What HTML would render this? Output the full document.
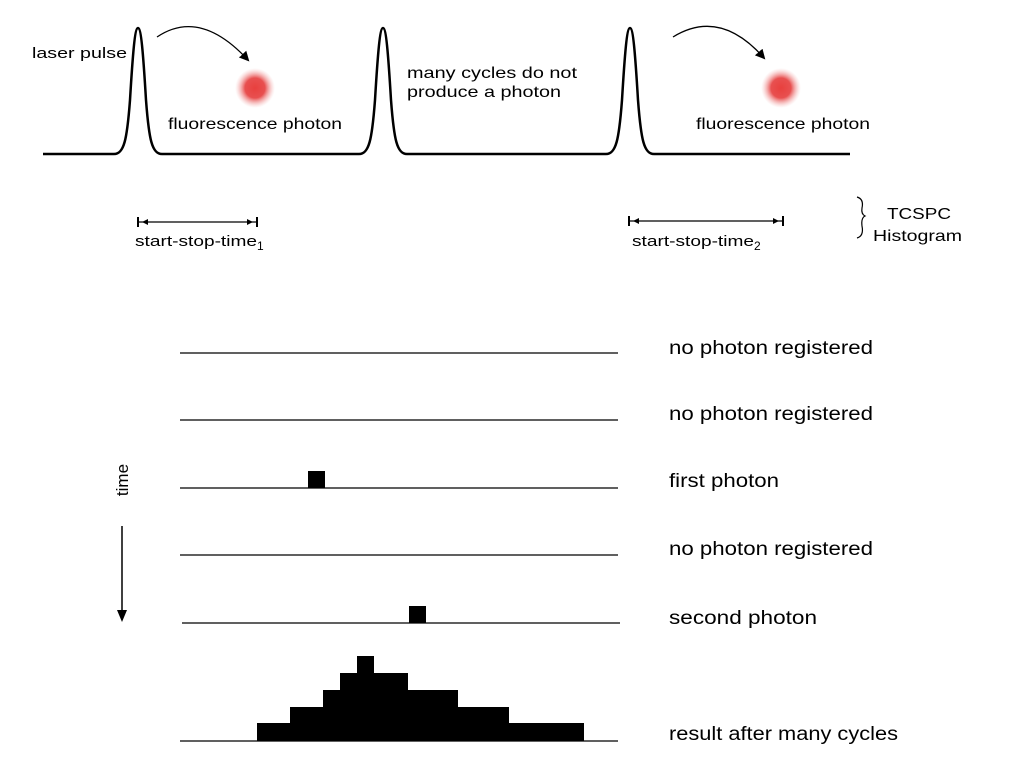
<!DOCTYPE html>
<html><head><meta charset="utf-8"><style>
html,body{margin:0;padding:0;background:#fff;}
svg{display:block;}
text{font-family:"Liberation Sans",sans-serif;fill:#000;}
</style></head><body>
<svg width="1024" height="764" viewBox="0 0 1024 764" xmlns="http://www.w3.org/2000/svg">
<defs>
<radialGradient id="g"><stop offset="0" stop-color="#e8403e"/><stop offset="0.5" stop-color="#e85050"/><stop offset="1" stop-color="#f5b8b8" stop-opacity="0"/></radialGradient>
<marker id="ah" markerWidth="10" markerHeight="10" refX="8" refY="5" orient="auto" markerUnits="userSpaceOnUse"><path d="M0,0 L10,5 L0,10 z" fill="#000"/></marker>
</defs>
<path d="M43,154 L114,154 C124,154 127,140 130,100 C133,50 135,28 138,28 C141,28 143,50 146,100 C149,140 152,154 162,154 L359,154 C369,154 372,140 375,100 C378,50 380,28 383,28 C386,28 388,50 391,100 C394,140 397,154 407,154 L606,154 C616,154 619,140 622,100 C625,50 627,28 630,28 C633,28 635,50 638,100 C641,140 644,154 654,154 L850,154" fill="none" stroke="#000" stroke-width="2.5"/>
<path d="M157,37 Q200,8 248,60" fill="none" stroke="#000" stroke-width="1.3" marker-end="url(#ah)"/>
<path d="M673,37 Q720,8 764,58" fill="none" stroke="#000" stroke-width="1.3" marker-end="url(#ah)"/>
<circle cx="255" cy="88" r="20" fill="url(#g)"/>
<circle cx="781" cy="88" r="20" fill="url(#g)"/>
<text x="32" y="58" font-size="15" textLength="95" lengthAdjust="spacingAndGlyphs">laser pulse</text>
<text x="168" y="129" font-size="16" textLength="174" lengthAdjust="spacingAndGlyphs">fluorescence photon</text>
<text x="696" y="129" font-size="16" textLength="174" lengthAdjust="spacingAndGlyphs">fluorescence photon</text>
<text x="407" y="78" font-size="16" textLength="170" lengthAdjust="spacingAndGlyphs">many cycles do not</text>
<text x="407" y="97" font-size="16" textLength="154" lengthAdjust="spacingAndGlyphs">produce a photon</text>
<g stroke="#000" stroke-width="1.3">
<line x1="138" y1="222" x2="257" y2="222"/><line x1="138" y1="217" x2="138" y2="227" stroke-width="2"/><line x1="257" y1="217" x2="257" y2="227" stroke-width="2"/>
<line x1="629" y1="221" x2="783" y2="221"/><line x1="629" y1="216" x2="629" y2="226" stroke-width="2"/><line x1="783" y1="216" x2="783" y2="226" stroke-width="2"/>
</g>
<path d="M142,222 l6,-3 v6z M253,222 l-6,-3 v6z M633,221 l6,-3 v6z M779,221 l-6,-3 v6z" fill="#000"/>
<text x="135" y="246" font-size="15"><tspan textLength="122" lengthAdjust="spacingAndGlyphs">start-stop-time</tspan><tspan font-size="12" dy="4">1</tspan></text>
<text x="632" y="246" font-size="15"><tspan textLength="122" lengthAdjust="spacingAndGlyphs">start-stop-time</tspan><tspan font-size="12" dy="4">2</tspan></text>
<path d="M857,197 Q864,199 862,208 Q861,214 865,216 Q861,218 862,226 Q864,236 857,238" fill="none" stroke="#000" stroke-width="1.2"/>
<text x="887" y="219" font-size="16" textLength="64" lengthAdjust="spacingAndGlyphs">TCSPC</text>
<text x="873" y="241" font-size="16" textLength="89" lengthAdjust="spacingAndGlyphs">Histogram</text>
<g stroke="#000" stroke-width="1.3">
<line x1="180" y1="353" x2="618" y2="353"/>
<line x1="180" y1="420" x2="618" y2="420"/>
<line x1="180" y1="488" x2="618" y2="488"/>
<line x1="180" y1="555" x2="618" y2="555"/>
<line x1="182" y1="623" x2="620" y2="623"/>
<line x1="180" y1="741" x2="618" y2="741"/>
</g>
<rect x="308" y="471" width="17" height="17" fill="#000"/>
<rect x="409" y="606" width="17" height="17" fill="#000"/>
<path d="M257,741 V723 H290 V707 H323 V690 H340 V673 H357 V656 H374 V673 H408 V690 H458 V707 H509 V723 H584 V741 Z" fill="#000"/>
<g font-size="19">
<text x="669" y="354" textLength="204" lengthAdjust="spacingAndGlyphs">no photon registered</text>
<text x="669" y="420" textLength="204" lengthAdjust="spacingAndGlyphs">no photon registered</text>
<text x="669" y="487" textLength="110" lengthAdjust="spacingAndGlyphs">first photon</text>
<text x="669" y="555" textLength="204" lengthAdjust="spacingAndGlyphs">no photon registered</text>
<text x="669" y="624" textLength="148" lengthAdjust="spacingAndGlyphs">second photon</text>
<text x="669" y="740" textLength="229" lengthAdjust="spacingAndGlyphs">result after many cycles</text>
</g>
<text transform="translate(128,480) rotate(-90)" font-size="17" text-anchor="middle">time</text>
<line x1="122" y1="526" x2="122" y2="612" stroke="#000" stroke-width="1.5"/>
<path d="M117,610 L122,622 L127,610 z" fill="#000"/>
</svg>
</body></html>
